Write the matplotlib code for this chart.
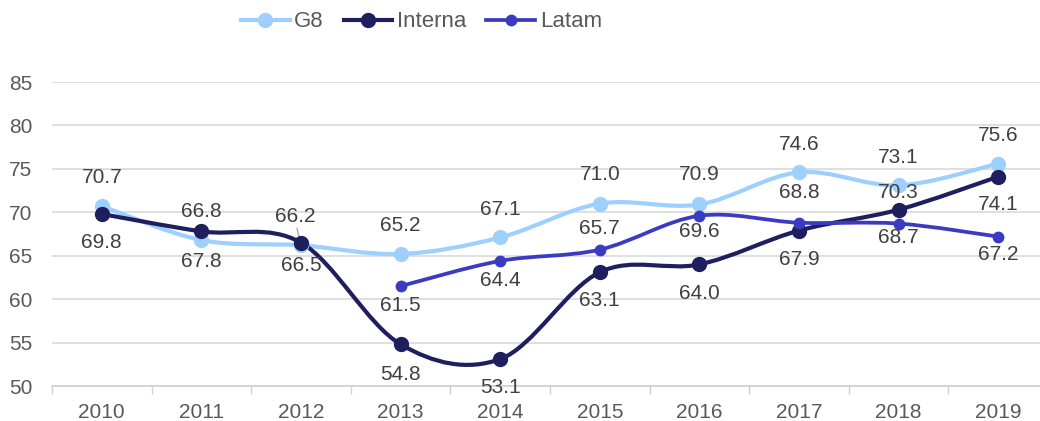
import matplotlib
matplotlib.use('Agg')
import matplotlib.pyplot as plt
from matplotlib.path import Path
from matplotlib.patches import PathPatch
from matplotlib.lines import Line2D
from matplotlib.ticker import FixedLocator

plt.rcParams['font.family'] = ['Liberation Sans', 'DejaVu Sans']

years = ['2010', '2011', '2012', '2013', '2014', '2015', '2016', '2017', '2018', '2019']
g8 = [70.7, 66.8, 66.2, 65.2, 67.1, 71.0, 70.9, 74.6, 73.1, 75.6]
interna = [69.8, 67.8, 66.5, 54.8, 53.1, 63.1, 64.0, 67.9, 70.3, 74.1]
latam_years = ['2013', '2014', '2015', '2016', '2017', '2018', '2019']
latam = [61.5, 64.4, 65.7, 69.6, 68.8, 68.7, 67.2]

# label offsets in pixels (positive = above the point)
g8_off = [29, 29, 29, 28, 28, 29, 30, 28, 28, 28]
interna_off = [-28, -30, -23, -30, -28, -28, -29, -29, 17, -28]
latam_off = [-19, -20, 21, -16, 30, -14, -18]

c_g8 = '#9DD0FF'
c_int = '#1F1F5E'
c_lat = '#3B3BC2'
txt = '#404040'


def smooth_path(xs, ys):
    # Excel-like smoothed line: Catmull-Rom through the points as cubic Beziers
    n = len(xs)
    pts = list(zip(xs, ys))
    verts = [pts[0]]
    codes = [Path.MOVETO]
    for i in range(n - 1):
        p0 = pts[max(i - 1, 0)]
        p1 = pts[i]
        p2 = pts[i + 1]
        p3 = pts[min(i + 2, n - 1)]
        c1 = (p1[0] + (p2[0] - p0[0]) / 6, p1[1] + (p2[1] - p0[1]) / 6)
        c2 = (p2[0] - (p3[0] - p1[0]) / 6, p2[1] - (p3[1] - p1[1]) / 6)
        verts += [c1, c2, p2]
        codes += [Path.CURVE4] * 3
    return Path(verts, codes)


fig = plt.figure(figsize=(10.4, 4.21), dpi=100)
ax = fig.add_axes([52 / 1040, 1 - 386 / 421, 996 / 1040, 304 / 421])

series = [
    ('G8', years, g8, c_g8, 3.0, 10, g8_off),
    ('Interna', years, interna, c_int, 3.0, 10, interna_off),
    ('Latam', latam_years, latam, c_lat, 2.7, 7.5, latam_off),
]

handles = []
for name, cats, vals, col, lw, ms, offs in series:
    xs = [years.index(y) for y in cats]
    ax.add_patch(PathPatch(smooth_path(xs, vals), facecolor='none', edgecolor=col,
                           lw=lw, capstyle='round', joinstyle='round', zorder=3))
    ax.plot(xs, vals, linestyle='none', marker='o', ms=ms, color=col, zorder=4)
    handles.append(Line2D([], [], color=col, lw=lw, marker='o', ms=ms))
    for x, v, o in zip(xs, vals, offs):
        dx = 0
        if name == 'G8' and x == 2:
            dx = -6
        ax.annotate(f'{v:.1f}', xy=(x, v), xytext=(dx * 0.72, o * 0.72),
                    textcoords='offset points', ha='center', va='center',
                    fontsize=15, color=txt, zorder=5)

# small leader line for the 2012 G8 label
ax.annotate('', xy=(2, 66.2), xytext=(-4 * 0.72, 17 * 0.72), textcoords='offset points',
            arrowprops=dict(arrowstyle='-', color='#a6a6a6', lw=1, shrinkA=0, shrinkB=3),
            zorder=2)

ax.set_xlim(-0.5, 9.5)
ax.set_ylim(50, 85)
ax.set_yticks(range(50, 90, 5))
ax.set_xticks(range(len(years)))
ax.set_xticklabels(years)
ax.xaxis.set_minor_locator(FixedLocator([i - 0.5 for i in range(len(years) + 1)]))
ax.tick_params(axis='x', which='major', length=0, pad=12, labelsize=15, labelcolor='#595959')
ax.tick_params(axis='x', which='minor', length=6, width=1, color='#d0d0d0')
ax.tick_params(axis='y', length=0, pad=14, labelsize=15, labelcolor='#595959')
ax.grid(axis='y', color='#d9d9d9', lw=1.2, zorder=0)
ax.set_axisbelow(True)
for s in ['left', 'right', 'top']:
    ax.spines[s].set_visible(False)
ax.spines['bottom'].set_color('#d0d0d0')
ax.spines['bottom'].set_linewidth(1.2)

fig.legend(handles, ['G8', 'Interna', 'Latam'], loc='center', bbox_to_anchor=(0.405, 0.948),
           ncol=3, frameon=False, fontsize=16, handlelength=2.2, handletextpad=0.2,
           columnspacing=0.9, labelcolor='#595959')

fig.savefig('out.png', dpi=100, facecolor='white')
